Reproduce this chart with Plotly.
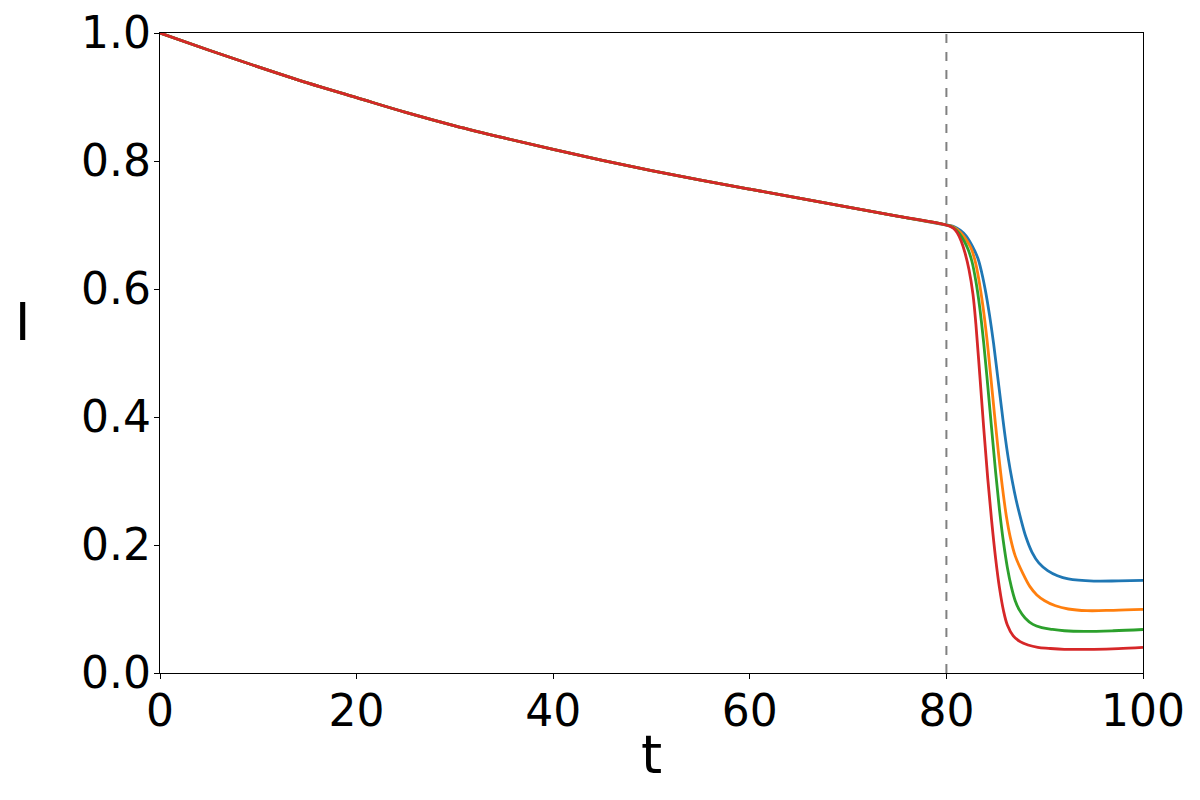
import plotly.graph_objects as go

# shared decline before the switch at t = 80
t_before = [0, 5, 10, 15, 20, 25, 30, 35, 40, 45, 50, 55, 60, 65, 70, 75, 80]
i_before = [1.0, 0.973, 0.947, 0.922, 0.899, 0.876, 0.855, 0.836, 0.818, 0.801,
            0.785, 0.770, 0.756, 0.742, 0.728, 0.714, 0.700]

# drop after t = 80, one list per curve
t_blue = [80.7, 81.4, 82.0, 82.6, 83.2, 83.6, 84.0, 84.4, 84.8, 85.2, 85.6, 85.9, 86.3,
          86.7, 87.1, 87.6, 88.1, 88.7, 89.4, 90.3, 91.3, 92.4, 95.0, 97.5, 100.0]
i_blue = [0.698, 0.692, 0.683, 0.668, 0.648, 0.625, 0.595, 0.558, 0.515, 0.465, 0.415,
          0.378, 0.335, 0.300, 0.270, 0.239, 0.212, 0.189, 0.172, 0.160, 0.152, 0.147,
          0.1437, 0.1440, 0.1448]

t_orange = [80.7, 81.4, 82.1, 82.5, 82.9, 83.3, 83.7, 84.1, 84.5, 84.9, 85.3, 85.7, 86.1,
            86.5, 87.0, 87.8, 88.5, 89.2, 90.0, 91.1, 92.4, 94.3, 97.0, 100.0]
i_orange = [0.697, 0.689, 0.675, 0.664, 0.645, 0.615, 0.575, 0.525, 0.465, 0.403, 0.343,
            0.290, 0.245, 0.212, 0.183, 0.155, 0.135, 0.122, 0.113, 0.105, 0.100, 0.0974,
            0.0980, 0.0995]

t_green = [80.7, 81.3, 81.8, 82.2, 82.6, 83.0, 83.4, 83.8, 84.2, 84.6, 85.0, 85.4, 85.8,
           86.2, 86.6, 87.0, 87.4, 88.0, 88.8, 89.7, 90.8, 92.0, 94.0, 97.0, 100.0]
i_green = [0.696, 0.687, 0.675, 0.662, 0.643, 0.612, 0.570, 0.515, 0.450, 0.382, 0.315,
           0.255, 0.205, 0.165, 0.135, 0.113, 0.099, 0.086, 0.076, 0.071, 0.068, 0.066,
           0.065, 0.066, 0.068]

t_red = [80.7, 81.1, 81.5, 81.9, 82.3, 82.7, 83.0, 83.4, 83.8, 84.2, 84.6, 85.0, 85.4,
         85.8, 86.2, 86.8, 87.5, 88.3, 89.3, 90.4, 92.0, 95.0, 97.5, 100.0]
i_red = [0.695, 0.688, 0.675, 0.656, 0.630, 0.592, 0.545, 0.465, 0.382, 0.305, 0.238,
         0.180, 0.133, 0.098, 0.075, 0.058, 0.049, 0.0437, 0.040, 0.0385, 0.037, 0.037,
         0.038, 0.040]

x_ticks = [0, 20, 40, 60, 80, 100]
y_ticks = [0.0, 0.2, 0.4, 0.6, 0.8, 1.0]
switch_t = 80

curves = [
    (t_blue, i_blue, "#1f77b4"),
    (t_orange, i_orange, "#ff7f0e"),
    (t_green, i_green, "#2ca02c"),
    (t_red, i_red, "#d62728"),
]

fig = go.Figure()
for t_after, i_after, color in curves:
    fig.add_trace(go.Scatter(
        x=t_before + t_after, y=i_before + i_after, mode="lines",
        line=dict(color=color, width=2.8, shape="spline", smoothing=1.0),
        showlegend=False,
    ))

fig.add_vline(x=switch_t, line=dict(color="gray", width=2, dash="dash"))

axis_style = dict(
    showline=True, linecolor="black", linewidth=1.3, mirror=True,
    showgrid=False, zeroline=False, ticks="outside", ticklen=5,
    tickcolor="black", tickwidth=1.3, automargin=False,
    tickfont=dict(size=44, color="black"), ticklabelstandoff=-6,
    ticklabeloverflow="allow",
)

# page body adds an 8px offset, so the figure is 8px smaller on each side
fig.update_layout(
    width=1192, height=792,
    margin=dict(l=152, r=57, t=25, b=127),
    plot_bgcolor="white", paper_bgcolor="white",
    font=dict(family="DejaVu Sans", color="black"),
    xaxis=dict(range=[0, 100], tickvals=x_ticks, **axis_style),
    yaxis=dict(range=[0, 1], tickvals=y_ticks, tickformat=".1f", **axis_style),
    annotations=[
        dict(text="t", xref="paper", yref="paper", x=0.5, y=0, xanchor="center",
             yanchor="middle", yshift=-81, showarrow=False, font=dict(size=54)),
        dict(text="I", xref="paper", yref="paper", x=0, y=(673 - 322) / 640, xanchor="center",
             yanchor="middle", xshift=-138, showarrow=False, font=dict(size=52)),
    ],
)

fig.write_html("out.html")
